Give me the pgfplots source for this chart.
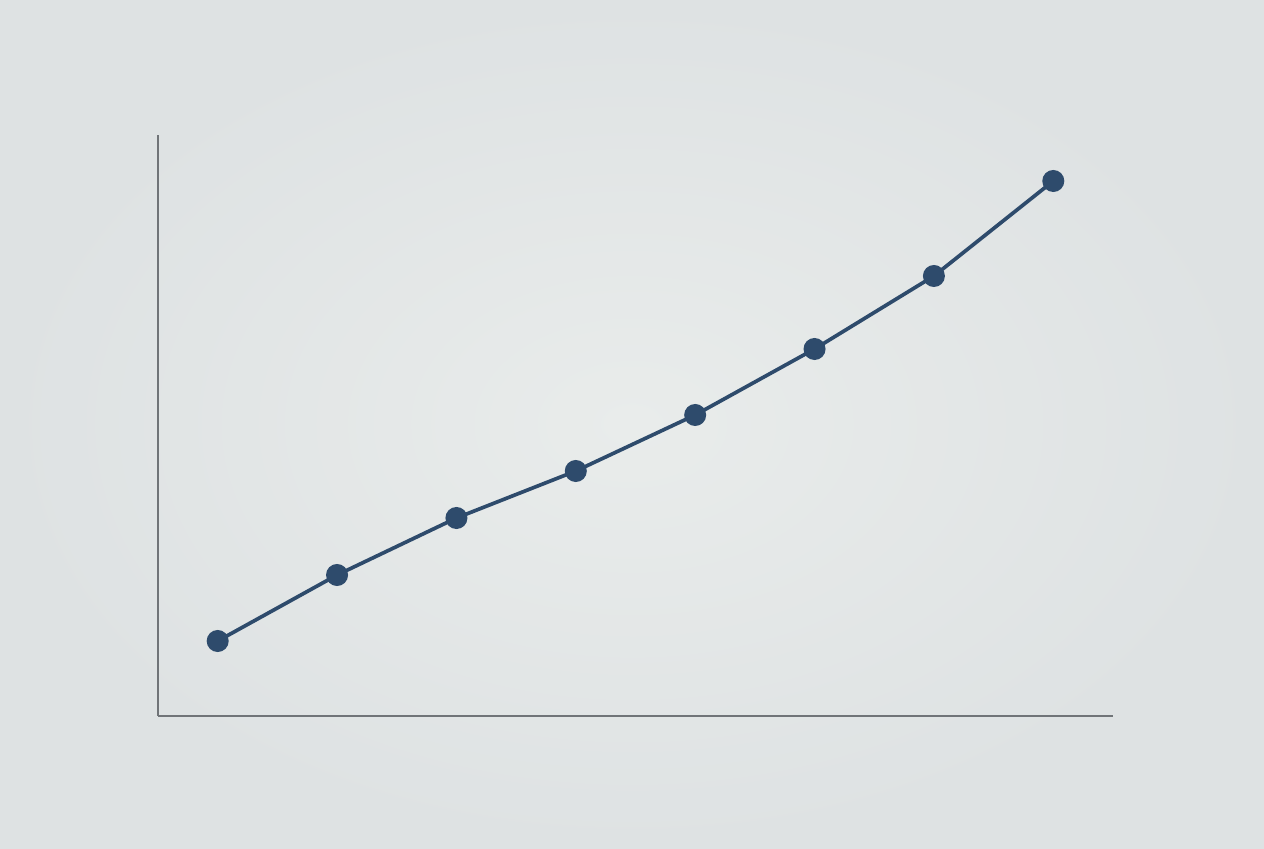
\documentclass[border=0pt]{standalone}
\usepackage{pgfplots}
\pgfplotsset{compat=1.18}
\definecolor{bgin}{HTML}{E9ECEB}
\definecolor{bgout}{HTML}{DEE2E3}
\definecolor{linec}{HTML}{2E4B6C}
\definecolor{axc}{HTML}{707478}
\begin{document}
\begin{tikzpicture}
% canvas: 1px of the reference = 0.01cm
\shade[inner color=bgin, outer color=bgout] (0,0) rectangle (12.64cm,8.48cm);
\begin{axis}[
    at={(1.58cm,1.32cm)}, anchor=south west,
    scale only axis,
    width=9.55cm, height=5.81cm,
    xmin=0.5, xmax=8.5,
    ymin=0, ymax=581,
    axis x line=bottom, axis y line=left,
    axis line style={-, draw=axc, line width=0.3pt},
    xtick=\empty, ytick=\empty,
    clip=false,
]
\addplot[linec, line width=1.05pt, mark=*, mark size=2.6pt,
         mark options={fill=linec, draw=linec}] coordinates {
    (1,75) (2,141) (3,198) (4,245) (5,301) (6,367) (7,440) (8,535)
};
\end{axis}
\end{tikzpicture}
\end{document}
